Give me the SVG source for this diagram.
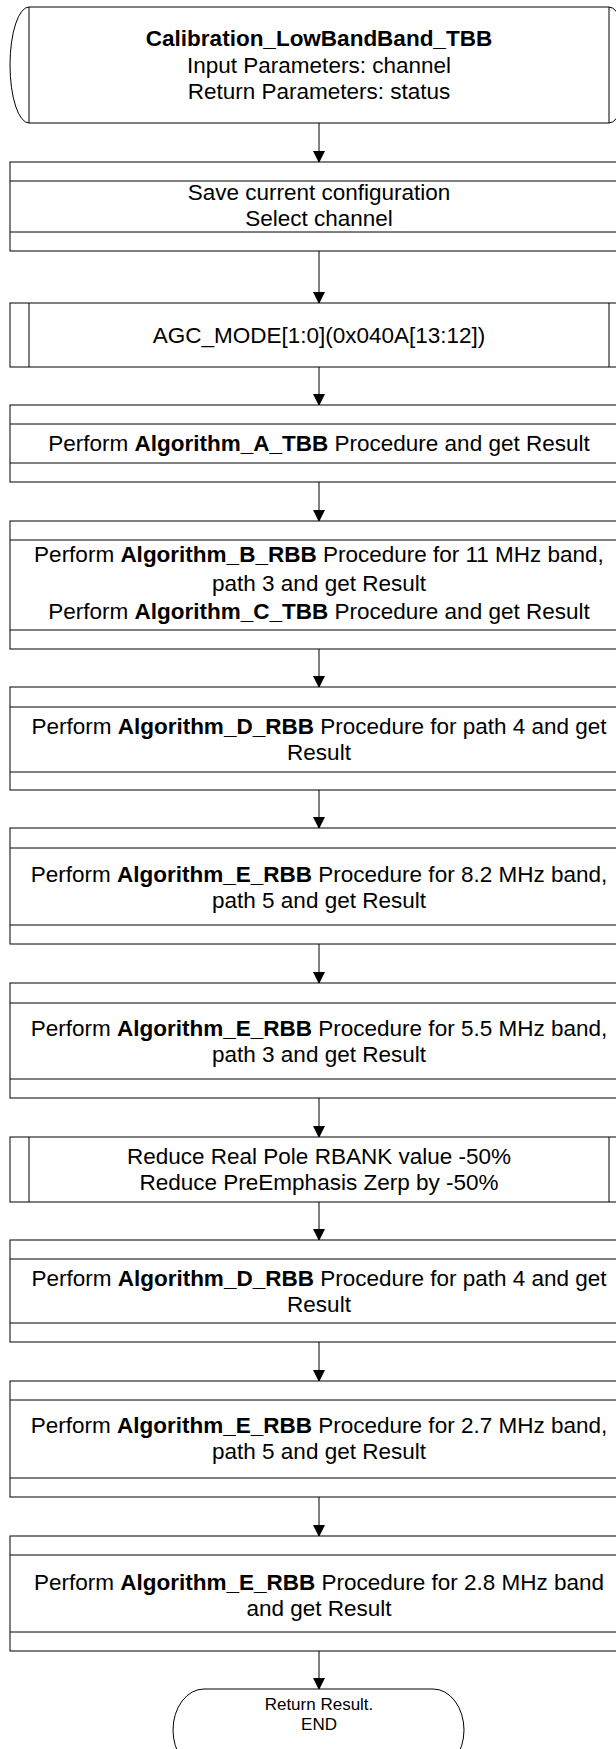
<svg xmlns="http://www.w3.org/2000/svg" width="616" height="1749" viewBox="0 0 616 1749">
<style>
.s{fill:#fff;stroke:#000;stroke-width:1}
.l{stroke:#000;stroke-width:1;fill:none}
.t{font-family:"Liberation Sans",Arial,sans-serif;font-size:22.5px;fill:#000;text-anchor:middle}
.b{font-weight:bold}
.e{font-family:"Liberation Sans",Arial,sans-serif;font-size:17px;fill:#000;text-anchor:middle}
.c{stroke:#000;stroke-width:1;fill:none}
</style>
<defs>
<marker id="ar" markerWidth="12" markerHeight="12" refX="11" refY="6" orient="auto" markerUnits="userSpaceOnUse">
<path d="M0,0 L12,6 L0,12 Z" fill="#000"/>
</marker>
</defs>
<rect width="616" height="1749" fill="#fff"/>
<g id="connectors">
<line class="c" x1="319" y1="123" x2="319" y2="162" marker-end="url(#ar)"/>
<line class="c" x1="319" y1="251" x2="319" y2="303" marker-end="url(#ar)"/>
<line class="c" x1="319" y1="367" x2="319" y2="405" marker-end="url(#ar)"/>
<line class="c" x1="319" y1="482" x2="319" y2="521" marker-end="url(#ar)"/>
<line class="c" x1="319" y1="649" x2="319" y2="687" marker-end="url(#ar)"/>
<line class="c" x1="319" y1="790" x2="319" y2="828" marker-end="url(#ar)"/>
<line class="c" x1="319" y1="944" x2="319" y2="983" marker-end="url(#ar)"/>
<line class="c" x1="319" y1="1098" x2="319" y2="1137" marker-end="url(#ar)"/>
<line class="c" x1="319" y1="1202" x2="319" y2="1240" marker-end="url(#ar)"/>
<line class="c" x1="319" y1="1342" x2="319" y2="1381" marker-end="url(#ar)"/>
<line class="c" x1="319" y1="1497" x2="319" y2="1536" marker-end="url(#ar)"/>
<line class="c" x1="319" y1="1651" x2="319" y2="1689" marker-end="url(#ar)"/>
</g>
<g id="start">
<path class="s" d="M29,7 L609,7 A19,58 0 0 1 609,123 L29,123 A19,58 0 0 1 29,7 Z"/>
<line class="l" x1="29" y1="7" x2="29" y2="123"/>
<line class="l" x1="609" y1="7" x2="609" y2="123"/>
<text class="t b" x="319" y="46">Calibration_LowBandBand_TBB</text>
<text class="t" x="319" y="73">Input Parameters: channel</text>
<text class="t" x="319" y="99">Return Parameters: status</text>
</g>
<g id="save">
<rect class="s" x="10" y="162" width="618" height="89"/>
<line class="l" x1="10" y1="181" x2="628" y2="181"/>
<line class="l" x1="10" y1="232" x2="628" y2="232"/>
<text class="t" x="319" y="200">Save current configuration</text>
<text class="t" x="319" y="226">Select channel</text>
</g>
<g id="agc">
<rect class="s" x="10" y="303" width="618" height="64"/>
<line class="l" x1="29" y1="303" x2="29" y2="367"/>
<line class="l" x1="609" y1="303" x2="609" y2="367"/>
<text class="t" x="319" y="343">AGC_MODE[1:0](0x040A[13:12])</text>
</g>
<g id="algA">
<rect class="s" x="10" y="405" width="618" height="77"/>
<line class="l" x1="10" y1="424" x2="628" y2="424"/>
<line class="l" x1="10" y1="463" x2="628" y2="463"/>
<text class="t" x="319" y="451">Perform <tspan class="b">Algorithm_A_TBB</tspan> Procedure and get Result</text>
</g>
<g id="algBC">
<rect class="s" x="10" y="521" width="618" height="128"/>
<line class="l" x1="10" y1="540" x2="628" y2="540"/>
<line class="l" x1="10" y1="630" x2="628" y2="630"/>
<text class="t" x="319" y="562">Perform <tspan class="b">Algorithm_B_RBB</tspan> Procedure for 11 MHz band,</text>
<text class="t" x="319" y="591">path 3 and get Result</text>
<text class="t" x="319" y="619">Perform <tspan class="b">Algorithm_C_TBB</tspan> Procedure and get Result</text>
</g>
<g id="algD1">
<rect class="s" x="10" y="687" width="618" height="103"/>
<line class="l" x1="10" y1="707" x2="628" y2="707"/>
<line class="l" x1="10" y1="772" x2="628" y2="772"/>
<text class="t" x="319" y="734">Perform <tspan class="b">Algorithm_D_RBB</tspan> Procedure for path 4 and get</text>
<text class="t" x="319" y="760">Result</text>
</g>
<g id="algE82">
<rect class="s" x="10" y="828" width="618" height="116"/>
<line class="l" x1="10" y1="848" x2="628" y2="848"/>
<line class="l" x1="10" y1="925" x2="628" y2="925"/>
<text class="t" x="319" y="882">Perform <tspan class="b">Algorithm_E_RBB</tspan> Procedure for 8.2 MHz band,</text>
<text class="t" x="319" y="908">path 5 and get Result</text>
</g>
<g id="algE55">
<rect class="s" x="10" y="983" width="618" height="115"/>
<line class="l" x1="10" y1="1003" x2="628" y2="1003"/>
<line class="l" x1="10" y1="1079" x2="628" y2="1079"/>
<text class="t" x="319" y="1036">Perform <tspan class="b">Algorithm_E_RBB</tspan> Procedure for 5.5 MHz band,</text>
<text class="t" x="319" y="1062">path 3 and get Result</text>
</g>
<g id="reduce">
<rect class="s" x="10" y="1137" width="618" height="65"/>
<line class="l" x1="29" y1="1137" x2="29" y2="1202"/>
<line class="l" x1="609" y1="1137" x2="609" y2="1202"/>
<text class="t" x="319" y="1164">Reduce Real Pole RBANK value -50%</text>
<text class="t" x="319" y="1190">Reduce PreEmphasis Zerp by -50%</text>
</g>
<g id="algD2">
<rect class="s" x="10" y="1240" width="618" height="102"/>
<line class="l" x1="10" y1="1259" x2="628" y2="1259"/>
<line class="l" x1="10" y1="1323" x2="628" y2="1323"/>
<text class="t" x="319" y="1286">Perform <tspan class="b">Algorithm_D_RBB</tspan> Procedure for path 4 and get</text>
<text class="t" x="319" y="1312">Result</text>
</g>
<g id="algE27">
<rect class="s" x="10" y="1381" width="618" height="116"/>
<line class="l" x1="10" y1="1400" x2="628" y2="1400"/>
<line class="l" x1="10" y1="1478" x2="628" y2="1478"/>
<text class="t" x="319" y="1433">Perform <tspan class="b">Algorithm_E_RBB</tspan> Procedure for 2.7 MHz band,</text>
<text class="t" x="319" y="1459">path 5 and get Result</text>
</g>
<g id="algE28">
<rect class="s" x="10" y="1536" width="618" height="115"/>
<line class="l" x1="10" y1="1555" x2="628" y2="1555"/>
<line class="l" x1="10" y1="1632" x2="628" y2="1632"/>
<text class="t" x="319" y="1590">Perform <tspan class="b">Algorithm_E_RBB</tspan> Procedure for 2.8 MHz band</text>
<text class="t" x="319" y="1616">and get Result</text>
</g>
<g id="end">
<rect class="s" x="173" y="1689" width="291" height="82" rx="31" ry="41"/>
<text class="e" x="319" y="1710">Return Result.</text>
<text class="e" x="319" y="1730">END</text>
</g>
</svg>
